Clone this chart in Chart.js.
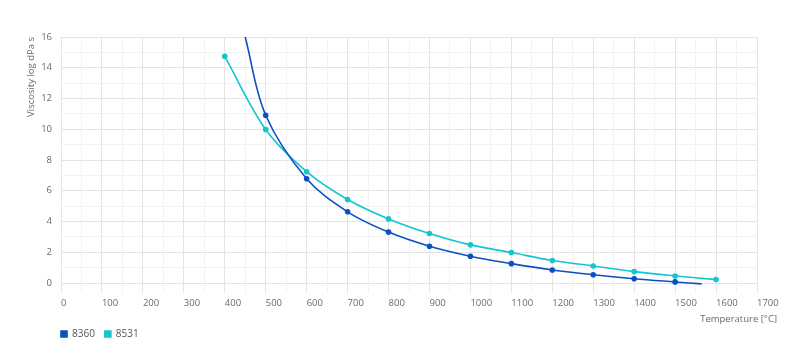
<!DOCTYPE html>
<html>
<head>
<meta charset="utf-8">
<script src="https://cdn.jsdelivr.net/npm/chart.js@4"></script>
<style>
  html, body { margin: 0; padding: 0; background: #fff; }
  #wrap { width: 800px; height: 363px; }
</style>
</head>
<body>
<div id="wrap"><canvas id="myChart"></canvas></div>
<script>
const seriesNames = ['8360', '8531'];

// temperature in °C, viscosity as log dPa s
const temp8360 = [450, 500, 600, 700, 800, 900, 1000, 1100, 1200, 1300, 1400, 1500, 1565];
const visc8360 = [16, 10.91, 6.78, 4.63, 3.31, 2.39, 1.74, 1.26, 0.85, 0.54, 0.28, 0.07, -0.06];

const temp8531 = [400, 500, 600, 700, 800, 900, 1000, 1100, 1200, 1300, 1400, 1500, 1600];
const visc8531 = [14.74, 9.98, 7.24, 5.43, 4.17, 3.22, 2.48, 1.98, 1.46, 1.11, 0.74, 0.46, 0.22];

const xTitle = 'Temperature [°C]';
const yTitle = 'Viscosity log dPa s';

const colores = ['#0b51c1', '#12c6cf'];
const gridMajor = '#e4e4e4';
const gridMinor = '#f2f2f2';
const fuente = { family: "'Open Sans', sans-serif", size: 9.5 };

const toPoints = (xs, ys) => xs.map((x, i) => ({ x: x, y: ys[i] }));

// the 8360 curve runs past its first/last measured point without a marker
const radio8360 = ctx => (ctx.dataIndex === 0 || ctx.dataIndex === temp8360.length - 1) ? 0 : 2;

const titleX = {
    id: 'titleX',
    afterLayout(chart) {
        // legend starts under the plot, not at the canvas edge
        const shift = chart.chartArea.left - 10;
        chart.legend.left += shift;
        chart.legend.right += shift;
    },
    afterDraw(chart) {
        const c = chart.ctx;
        c.save();
        c.font = "9.5px 'Open Sans', sans-serif";
        c.fillStyle = '#6a6a6a';
        c.textAlign = 'right';
        c.textBaseline = 'middle';
        c.fillText(xTitle, chart.chartArea.right + 20, 319);
        c.restore();
    }
};

const ctx = document.getElementById('myChart');

new Chart(ctx, {
    type: 'scatter',
    data: {
        datasets: [{
            label: seriesNames[0],
            data: toPoints(temp8360, visc8360),
            showLine: true,
            borderColor: colores[0],
            backgroundColor: colores[0],
            borderWidth: 1.6,
            pointRadius: radio8360,
            pointHoverRadius: radio8360,
            tension: 0.35,
            clip: { left: 0, top: 0, right: 0, bottom: 4 }
        }, {
            label: seriesNames[1],
            data: toPoints(temp8531, visc8531),
            showLine: true,
            borderColor: colores[1],
            backgroundColor: colores[1],
            borderWidth: 1.6,
            pointRadius: 2,
            tension: 0.35
        }]
    },
    options: {
        responsive: true,
        maintainAspectRatio: false,
        animation: false,
        layout: {
            padding: { top: 37, right: 43, bottom: 14, left: 0 }
        },
        plugins: {
            legend: {
                position: 'bottom',
                align: 'start',
                labels: {
                    boxWidth: 6,
                    boxHeight: 6,
                    padding: 10,
                    color: '#555',
                    font: { family: "'Open Sans', sans-serif", size: 10 }
                }
            },
            tooltip: { enabled: false }
        },
        scales: {
            x: {
                type: 'linear',
                min: 0,
                max: 1700,
                afterFit: scale => { scale.height = 36; },
                border: { display: false },
                grid: {
                    color: c => c.tick && c.tick.value % 100 === 0 ? gridMajor : gridMinor,
                    tickColor: c => c.tick && c.tick.value % 100 === 0 ? gridMajor : gridMinor,
                    tickLength: 10
                },
                ticks: {
                    stepSize: 50,
                    autoSkip: false,
                    maxRotation: 0,
                    align: 'start',
                    padding: 5,
                    color: '#6a6a6a',
                    font: fuente,
                    callback: v => v % 100 === 0 ? String(v) : ''
                }
            },
            y: {
                min: 0,
                max: 16,
                afterFit: scale => { scale.width = 61; },
                border: { display: false },
                grid: {
                    color: c => c.tick && c.tick.value % 2 === 0 ? gridMajor : gridMinor,
                    drawTicks: false
                },
                ticks: {
                    stepSize: 1,
                    padding: 9,
                    color: '#6a6a6a',
                    font: fuente,
                    callback: v => v % 2 === 0 ? String(v) : ''
                },
                title: {
                    display: true,
                    text: yTitle,
                    align: 'end',
                    color: '#6a6a6a',
                    font: fuente,
                    padding: { top: 26, bottom: 0 }
                }
            }
        }
    },
    plugins: [titleX]
});
</script>
</body>
</html>
